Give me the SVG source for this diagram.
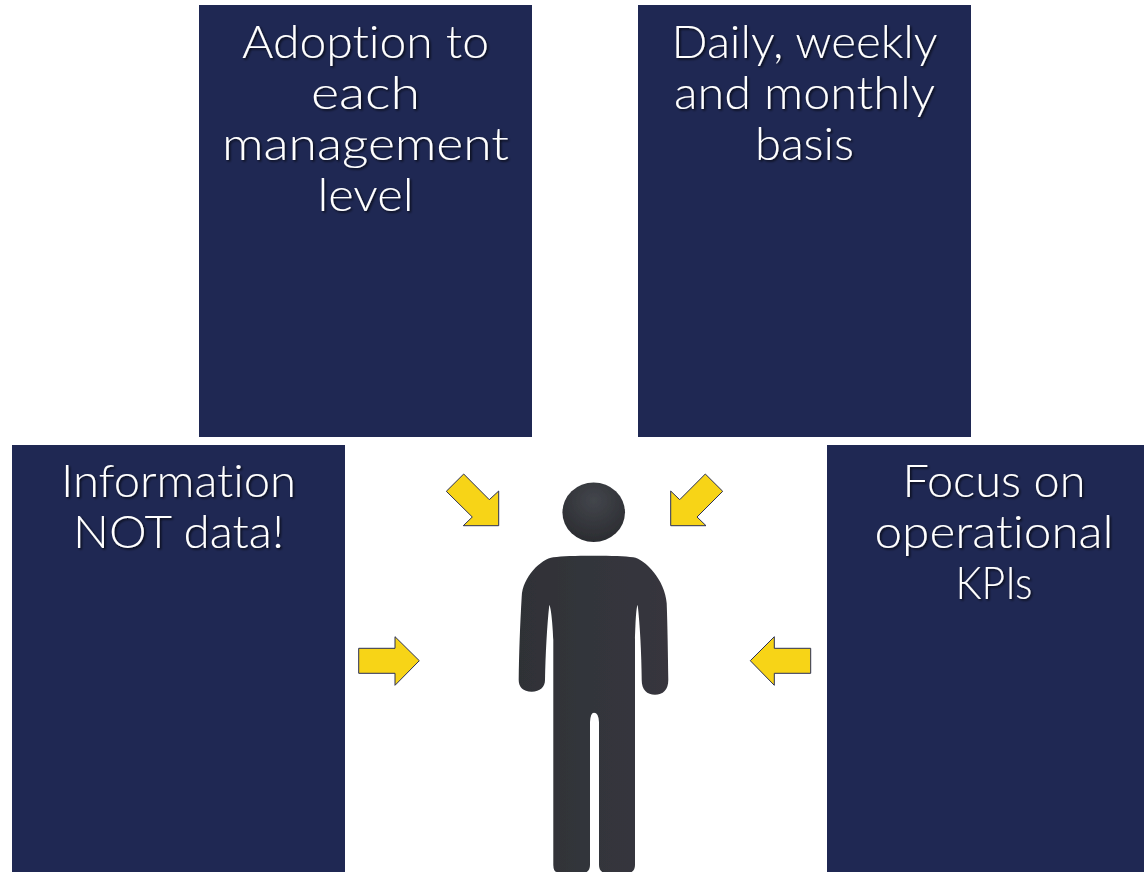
<svg xmlns="http://www.w3.org/2000/svg" width="1144" height="872" viewBox="0 0 1144 872">
<style>
.box{fill:#1f2853}
.t{font-family:"Lato","Liberation Sans",sans-serif;font-weight:300;font-size:46px;font-variant-ligatures:none;fill:#fff;text-anchor:middle;filter:url(#sh)}
.arrow{fill:#f7d417;stroke:#2a2f55;stroke-width:1;stroke-linejoin:miter}
</style>
<defs>
<filter id="sh" x="-10%" y="-20%" width="120%" height="140%"><feDropShadow dx="1.5" dy="1.5" stdDeviation="1" flood-color="#000" flood-opacity=".75"/></filter>
<filter id="soft" x="-5%" y="-5%" width="110%" height="110%"><feGaussianBlur stdDeviation=".5"/></filter>
<linearGradient id="bodyG" x1="0" x2="1" y1="0" y2="0"><stop offset="0" stop-color="#2f3036"/><stop offset=".5" stop-color="#33363b"/><stop offset="1" stop-color="#37363d"/></linearGradient>
<radialGradient id="headG" cx=".5" cy=".3" r=".7"><stop offset="0" stop-color="#43464c"/><stop offset="1" stop-color="#2b2c31"/></radialGradient>
</defs>
<rect width="1144" height="872" fill="#fff"/>
<g id="node-adoption"><rect class="box" x="199" y="5" width="333" height="432"/>
<text class="t" x="365.500" y="58" textLength="247" lengthAdjust="spacingAndGlyphs">Adoption to</text><text class="t" x="365.500" y="109" textLength="109" lengthAdjust="spacingAndGlyphs">each</text><text class="t" x="365.500" y="160" textLength="287" lengthAdjust="spacingAndGlyphs">management</text><text class="t" x="365.500" y="211" textLength="96" lengthAdjust="spacingAndGlyphs">level</text></g>
<g id="node-daily"><rect class="box" x="638" y="5" width="333" height="432"/>
<text class="t" x="804.500" y="58" textLength="266" lengthAdjust="spacingAndGlyphs">Daily, weekly</text><text class="t" x="804.500" y="109" textLength="261" lengthAdjust="spacingAndGlyphs">and monthly</text><text class="t" x="804.500" y="160" textLength="99" lengthAdjust="spacingAndGlyphs">basis</text></g>
<g id="node-information"><rect class="box" x="12" y="445" width="333" height="427"/>
<text class="t" x="178.500" y="497" textLength="235" lengthAdjust="spacingAndGlyphs">Information</text><text class="t" x="178.500" y="548" textLength="211" lengthAdjust="spacingAndGlyphs">NOT data!</text></g>
<g id="node-focus"><rect class="box" x="827" y="445" width="317" height="427"/>
<text class="t" x="994" y="497" textLength="183" lengthAdjust="spacingAndGlyphs">Focus on</text><text class="t" x="994" y="548" textLength="239" lengthAdjust="spacingAndGlyphs">operational</text><text class="t" x="994" y="599" textLength="77" lengthAdjust="spacingAndGlyphs">KPIs</text></g>
<g id="node-person" filter="url(#soft)">
<ellipse cx="593.700" cy="512.300" rx="31.300" ry="29.700" fill="url(#headG)"/>
<path fill="url(#bodyG)" d="M593.300 555.700C575 555.700 562 556 553.300 557.300C541 559 522.500 577 521.700 596.700C520 625 519 655 518.700 680C518.700 687 523 691.700 531.700 691.700C540 691.700 545 687 545 680C545.500 655 547 625 549.300 605C551 607 552.800 625 553.300 640L553.300 696.700L553.300 865Q553.500 872 556.700 872L586.700 872Q590 870 590 865L590 722Q590.500 712.700 594 712.700Q598.500 712.700 599 722L599 865Q599 870 602.300 872L631.700 872Q635 870 635 865L635 696.700L635 640C635.500 625 636 607 637.700 605C640 625 641.500 655 641.700 680C641.700 690 647 694.700 655 694.700C663 694.700 668.300 690 668.300 680C668 655 667.500 625 666.700 603.300C665 580 645 559 633.300 557.300C625 556 612 555.700 593.300 555.700Z"/>
</g>
<g id="connectors">
<polygon class="arrow" points="463.700,474 489.300,499.700 498.700,491 498.700,525.700 463.300,525.700 472.300,517 446.300,491.300"/>
<polygon class="arrow" points="705.300,474 722.700,491.300 697,517 706,525.700 670.700,525.700 670.700,491 679.700,499.700"/>
<polygon class="arrow" points="358.700,648.300 395,648.300 395,636.700 419.300,660.700 395,685.300 395,673.300 358.700,673.300"/>
<polygon class="arrow" points="810.700,648.300 774.300,648.300 774.300,636.700 750.300,660.700 774.300,685.300 774.300,673.300 810.700,673.300"/>
</g>
</svg>
